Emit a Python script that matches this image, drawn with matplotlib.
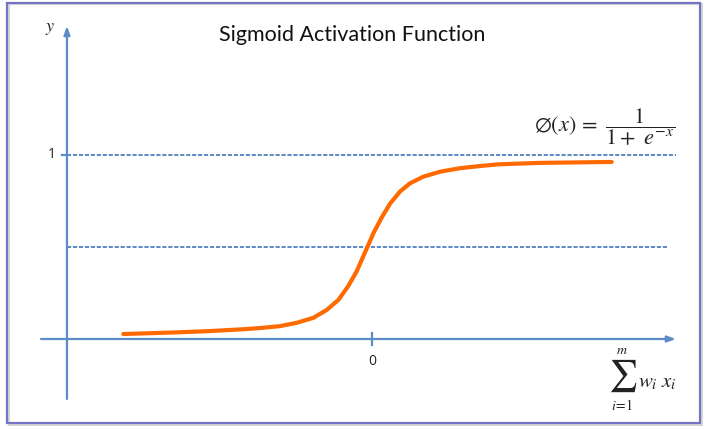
import matplotlib
matplotlib.use("Agg")
import matplotlib.pyplot as plt
from matplotlib.patches import Rectangle

# ---- data ----
curve_x = [-3.361, -2.639, -2.2, -1.739, -1.5, -1.243, -1.018, -0.793, -0.612,
           -0.455, -0.320, -0.207, -0.139, -0.064, 0.018, 0.131, 0.243, 0.378,
           0.514, 0.693, 0.919, 1.189, 1.459, 1.707, 2.270, 3.239]
curve_y = [0.027, 0.036, 0.043, 0.053, 0.060, 0.070, 0.088, 0.115, 0.158,
           0.212, 0.288, 0.368, 0.430, 0.498, 0.574, 0.660, 0.735, 0.801,
           0.846, 0.882, 0.909, 0.928, 0.940, 0.949, 0.957, 0.962]
hlines = [1.0, 0.5]
ytick_labels = ["1"]
xtick_labels = ["0"]
title = "Sigmoid Activation Function"

# ---- layout ----
W, H = 709, 429
fig = plt.figure(figsize=(W / 100, H / 100), dpi=100)
ax = fig.add_axes([0, 0, 1, 1])
ax.set_xlim(-5.027, 4.554)
ax.set_ylim(-0.489, 1.842)
ax.axis("off")

axis_col = "#5b8bc9"
dash_col = "#4f7fbf"
curve_col = "#ff6a00"
txt_col = "#222222"

yaxis_x = -4.122
# border with shadow
fig.patches.append(Rectangle((9 / W, 1 - 425 / H), 693 / W, 421 / H, fill=False,
                             ec="#d6d6d6", lw=1.5, transform=fig.transFigure))
fig.patches.append(Rectangle((7 / W, 1 - 423 / H), 693 / W, 420 / H, fill=False,
                             ec="#7474c4", lw=1.6, transform=fig.transFigure))

# axes arrows
ax.annotate("", xy=(yaxis_x, 1.701), xytext=(yaxis_x, -0.326),
            arrowprops=dict(arrowstyle="-|>,head_length=0.5,head_width=0.18",
                            color=axis_col, lw=1.6, shrinkA=0, shrinkB=0))
ax.annotate("", xy=(4.108, 0), xytext=(-4.473, 0),
            arrowprops=dict(arrowstyle="-|>,head_length=0.5,head_width=0.18",
                            color=axis_col, lw=1.6, shrinkA=0, shrinkB=0))

# dashed reference lines
ax.plot([yaxis_x, 4.108], [hlines[0]] * 2, color=dash_col, lw=1.3,
        dashes=(2.3, 1.0))
ax.plot([yaxis_x, 4.0], [hlines[1]] * 2, color=dash_col, lw=1.3,
        dashes=(2.3, 1.0))

# ticks
ax.plot([0, 0], [-0.03, 0.03], color=axis_col, lw=1.6)
ax.plot([yaxis_x - 0.07, yaxis_x], [1, 1], color=axis_col, lw=1.6)

# curve
ax.plot(curve_x, curve_y, color=curve_col, lw=3.0, solid_capstyle="round",
        solid_joinstyle="round")

# texts
ax.text(yaxis_x - 0.15, 1.0, ytick_labels[0], ha="right", va="center",
        fontsize=10, family="Open Sans", color=txt_col)
ax.text(0, -0.12, xtick_labels[0], ha="center", va="center",
        fontsize=10, family="Open Sans", color=txt_col)
ax.text(-4.35, 1.69, r"$y$", ha="center", va="center", fontsize=13,
        math_fontfamily="stix", color=txt_col)
fig.text(352 / W, 1 - 35 / H, title, ha="center", va="center",
         fontsize=15.5, family="Lato", color="#111111")
ax.text(4.10, 1.15, r"$\emptyset(x)\,=\,\,\dfrac{1}{1+\ e^{-x}}$", ha="right",
        va="center", fontsize=16, math_fontfamily="stix", color=txt_col)

# summation label
ax.text(3.392, -0.200, r"$\sum$", ha="center", va="center", fontsize=23,
        math_fontfamily="stix", color=txt_col)
ax.text(3.378, -0.062, r"$m$", ha="center", va="center", fontsize=10,
        math_fontfamily="stix", color=txt_col)
ax.text(3.378, -0.360, r"$i\!=\!1$", ha="center", va="center", fontsize=10,
        math_fontfamily="stix", color=txt_col)
ax.text(3.595, -0.261, r"$w_i\;x_i$", ha="left", va="baseline", fontsize=15,
        math_fontfamily="stix", color=txt_col)

fig.savefig("out.png", dpi=100)
